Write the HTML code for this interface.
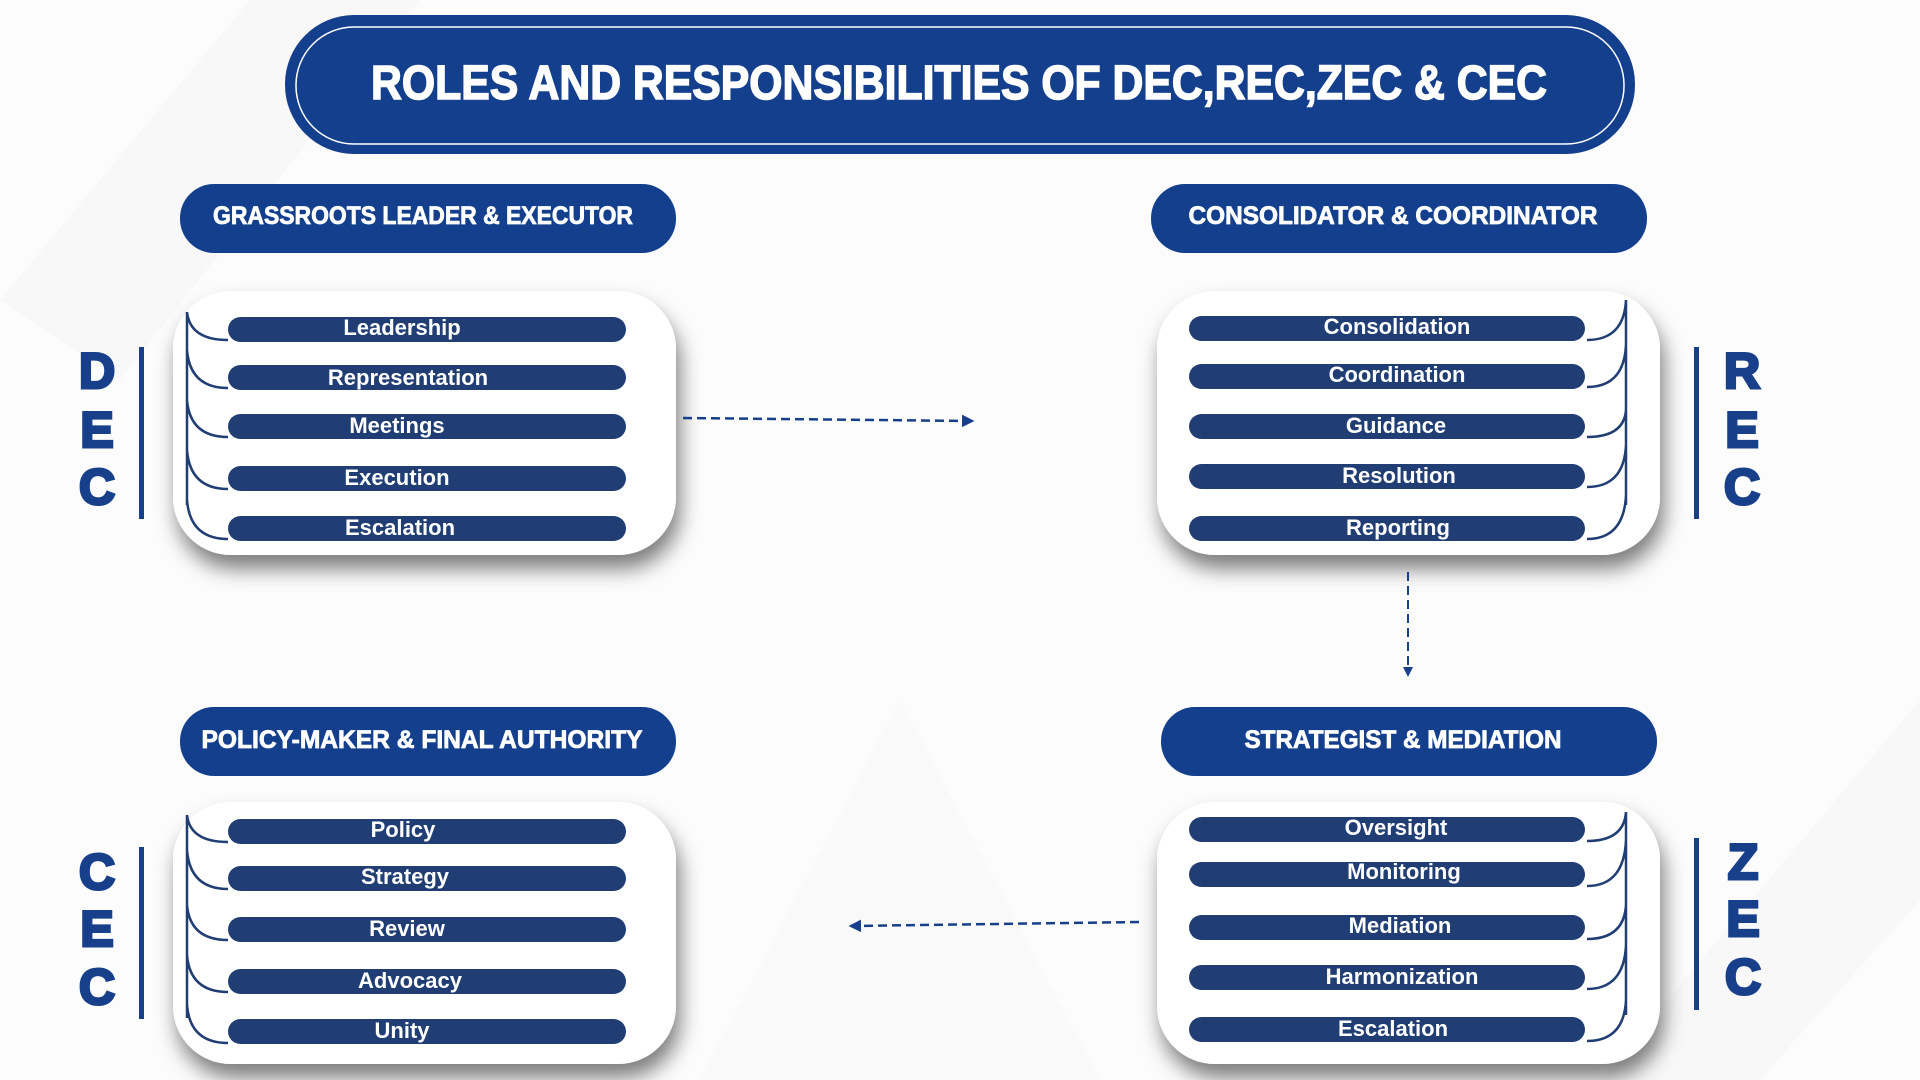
<!DOCTYPE html>
<html><head><meta charset="utf-8"><style>
html,body{margin:0;padding:0;background:#fcfcfc;}
svg{display:block;}
text{font-family:"Liberation Sans",sans-serif;}
.pt{fill:#fff;font-size:22px;font-weight:bold;text-anchor:middle;}
.hd{fill:#fff;font-size:25px;font-weight:bold;text-anchor:middle;stroke:#fff;stroke-width:0.8;}
.lt{fill:#173f8a;font-size:50px;font-weight:bold;text-anchor:middle;stroke:#173f8a;stroke-width:3;}
.pill{fill:#213e74;}
.br{fill:none;stroke:#213e74;stroke-width:2.5;}
</style></head><body>
<svg width="1920" height="1080" viewBox="0 0 1920 1080" xmlns="http://www.w3.org/2000/svg">
<defs>
<filter id="sh" x="-20%" y="-20%" width="140%" height="150%">
<feDropShadow dx="4" dy="14" stdDeviation="10" flood-color="#000" flood-opacity="0.5"/>
</filter>
<marker id="ah" viewBox="0 0 10 10" refX="8" refY="5" markerWidth="5" markerHeight="5" orient="auto"><path d="M0,0 L10,5 L0,10 z" fill="#173f8a"/></marker>
</defs>
<rect width="1920" height="1080" fill="#fcfcfc"/>
<path d="M0,300 L250,0 L420,0 L120,380 Z" fill="#f8f8f8"/>
<path d="M700,1080 L900,700 L1100,1080 Z" fill="#f9f9f9"/>
<path d="M1600,1080 L1920,700 L1920,900 L1760,1080 Z" fill="#f8f8f8"/>

<!-- title -->
<rect x="285" y="15" width="1350" height="139" rx="69" fill="#143f8c"/>
<rect x="296" y="27" width="1328" height="117" rx="58" fill="none" stroke="#fff" stroke-width="1.5"/>
<text x="959" y="99" fill="#fff" stroke="#fff" stroke-width="1.5" font-size="48" font-weight="bold" text-anchor="middle" textLength="1176" lengthAdjust="spacingAndGlyphs">ROLES AND RESPONSIBILITIES OF DEC,REC,ZEC &amp;  CEC</text>

<!-- headers -->
<rect x="180" y="184" width="496" height="69" rx="34" fill="#133f8d"/>
<text class="hd" x="423" y="224" textLength="420" lengthAdjust="spacingAndGlyphs">GRASSROOTS LEADER &amp; EXECUTOR</text>
<rect x="1151" y="184" width="496" height="69" rx="34" fill="#133f8d"/>
<text class="hd" x="1393" y="224" textLength="409" lengthAdjust="spacingAndGlyphs">CONSOLIDATOR &amp; COORDINATOR</text>
<rect x="180" y="707" width="496" height="69" rx="34" fill="#133f8d"/>
<text class="hd" x="422" y="748" textLength="441" lengthAdjust="spacingAndGlyphs">POLICY-MAKER &amp; FINAL AUTHORITY</text>
<rect x="1161" y="707" width="496" height="69" rx="34" fill="#133f8d"/>
<text class="hd" x="1403" y="748" textLength="317" lengthAdjust="spacingAndGlyphs">STRATEGIST &amp; MEDIATION</text>

<!-- cards -->
<rect x="173" y="291" width="503" height="264" rx="58" fill="#fff" filter="url(#sh)"/>
<rect x="1157" y="291" width="503" height="264" rx="58" fill="#fff" filter="url(#sh)"/>
<rect x="173" y="802" width="503" height="262" rx="58" fill="#fff" filter="url(#sh)"/>
<rect x="1157" y="802" width="503" height="262" rx="58" fill="#fff" filter="url(#sh)"/>

<!-- DEC -->
<path class="br" d="M187,312 L187,505 M187,312 Q190,340 228,340 M187,350 Q190,388 228,388 M187,400 Q190,437 228,437 M187,450 Q190,489 228,489 M187,500 Q190,539 228,539"/>
<rect class="pill" x="228" y="317" width="398" height="25" rx="12.5"/><text class="pt" x="402" y="335">Leadership</text>
<rect class="pill" x="228" y="365" width="398" height="25" rx="12.5"/><text class="pt" x="408" y="385">Representation</text>
<rect class="pill" x="228" y="414" width="398" height="25" rx="12.5"/><text class="pt" x="397" y="433">Meetings</text>
<rect class="pill" x="228" y="466" width="398" height="25" rx="12.5"/><text class="pt" x="397" y="485">Execution</text>
<rect class="pill" x="228" y="516" width="398" height="25" rx="12.5"/><text class="pt" x="400" y="535">Escalation</text>
<rect x="139" y="347" width="5" height="172" fill="#173f8a"/>
<text class="lt" x="97" y="388">D</text><text class="lt" x="97" y="447">E</text><text class="lt" x="97" y="504">C</text>

<!-- REC -->
<path class="br" d="M1626,300 L1626,505 M1626,300 Q1624,340 1587,340 M1626,345 Q1624,387 1587,387 M1626,410 Q1624,437 1587,437 M1626,445 Q1624,487 1587,487 M1626,495 Q1624,539 1587,539"/>
<rect class="pill" x="1189" y="316" width="396" height="25" rx="12.5"/><text class="pt" x="1397" y="334">Consolidation</text>
<rect class="pill" x="1189" y="364" width="396" height="25" rx="12.5"/><text class="pt" x="1397" y="382">Coordination</text>
<rect class="pill" x="1189" y="414" width="396" height="25" rx="12.5"/><text class="pt" x="1396" y="433">Guidance</text>
<rect class="pill" x="1189" y="464" width="396" height="25" rx="12.5"/><text class="pt" x="1399" y="483">Resolution</text>
<rect class="pill" x="1189" y="516" width="396" height="25" rx="12.5"/><text class="pt" x="1398" y="535">Reporting</text>
<rect x="1694" y="347" width="5" height="172" fill="#173f8a"/>
<text class="lt" x="1742" y="388">R</text><text class="lt" x="1742" y="447">E</text><text class="lt" x="1742" y="504">C</text>

<!-- CEC -->
<path class="br" d="M187,815 L187,1018 M187,815 Q190,842 228,842 M187,850 Q190,889 228,889 M187,905 Q190,940 228,940 M187,955 Q190,992 228,992 M187,1005 Q190,1043 228,1043"/>
<rect class="pill" x="228" y="819" width="398" height="25" rx="12.5"/><text class="pt" x="403" y="837">Policy</text>
<rect class="pill" x="228" y="866" width="398" height="25" rx="12.5"/><text class="pt" x="405" y="884">Strategy</text>
<rect class="pill" x="228" y="917" width="398" height="25" rx="12.5"/><text class="pt" x="407" y="936">Review</text>
<rect class="pill" x="228" y="969" width="398" height="25" rx="12.5"/><text class="pt" x="410" y="988">Advocacy</text>
<rect class="pill" x="228" y="1019" width="398" height="25" rx="12.5"/><text class="pt" x="402" y="1038">Unity</text>
<rect x="139" y="847" width="5" height="172" fill="#173f8a"/>
<text class="lt" x="97" y="889">C</text><text class="lt" x="97" y="946">E</text><text class="lt" x="97" y="1004">C</text>

<!-- ZEC -->
<path class="br" d="M1626,812 L1626,1015 M1626,812 Q1624,841 1587,841 M1626,840 Q1624,886 1587,886 M1626,905 Q1624,939 1587,939 M1626,945 Q1624,989 1587,989 M1626,1000 Q1624,1041 1587,1041"/>
<rect class="pill" x="1189" y="817" width="396" height="25" rx="12.5"/><text class="pt" x="1396" y="835">Oversight</text>
<rect class="pill" x="1189" y="862" width="396" height="25" rx="12.5"/><text class="pt" x="1404" y="879">Monitoring</text>
<rect class="pill" x="1189" y="915" width="396" height="25" rx="12.5"/><text class="pt" x="1400" y="933">Mediation</text>
<rect class="pill" x="1189" y="965" width="396" height="25" rx="12.5"/><text class="pt" x="1402" y="984">Harmonization</text>
<rect class="pill" x="1189" y="1017" width="396" height="25" rx="12.5"/><text class="pt" x="1393" y="1036">Escalation</text>
<rect x="1694" y="838" width="5" height="172" fill="#173f8a"/>
<text class="lt" x="1743" y="879">Z</text><text class="lt" x="1743" y="936">E</text><text class="lt" x="1743" y="994">C</text>

<!-- arrows -->
<line x1="683" y1="418" x2="972" y2="421" stroke="#173f8a" stroke-width="2.5" stroke-dasharray="9,5" marker-end="url(#ah)"/>
<line x1="1408" y1="572" x2="1408" y2="675" stroke="#173f8a" stroke-width="2" stroke-dasharray="9,5" marker-end="url(#ah)"/>
<line x1="1139" y1="922" x2="851" y2="926" stroke="#173f8a" stroke-width="2.5" stroke-dasharray="9,5" marker-end="url(#ah)"/>
</svg>
</body></html>
